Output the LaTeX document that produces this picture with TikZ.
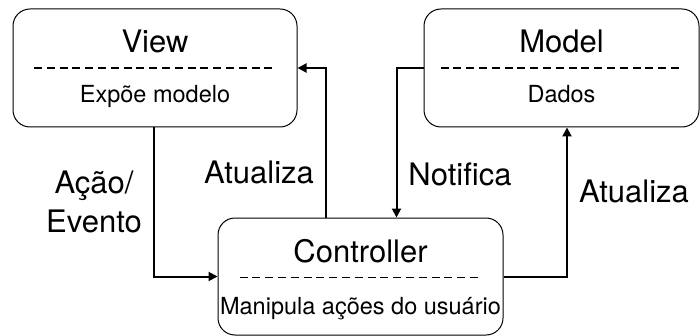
\documentclass[tikz,border=0pt]{standalone}
\usepackage{fontspec}
\setmainfont{TeX Gyre Heros}
\usetikzlibrary{arrows.meta}
\begin{document}
\begin{tikzpicture}[x=0.5pt,y=-0.5pt,
  box/.style={draw, line width=0.5pt, rounded corners=8.5pt, inner sep=0pt},
  sep/.style={line width=0.75pt, dash pattern=on 4pt off 2.4pt},
  conn/.style={line width=1pt, -{Triangle[length=4.5pt,width=4.5pt]}},
  big/.style={font=\fontsize{15.5}{19.5}\selectfont, inner sep=0pt, anchor=base},
  small/.style={font=\fontsize{11.75}{14}\selectfont, inner sep=0pt, anchor=base}]
  \useasboundingbox (0,0) rectangle (700,336);

  % components
  \node[box, minimum width=142pt, minimum height=59pt] (view)  at (155,68)    {};
  \node[box, minimum width=137.5pt, minimum height=59pt] (model) at (561.5,68) {};
  \node[box, minimum width=142.5pt, minimum height=58.5pt] (ctrl) at (360.5,276.5) {};

  \node[big]   (viewT)  at (155,53)    {View};
  \node[small] (viewS)  at (155,103)   {Expõe modelo};
  \node[big]   (modelT) at (561.5,53)  {Model};
  \node[small] (modelS) at (561.5,103) {Dados};
  \node[big]   (ctrlT)  at (360.5,262) {Controller};
  \node[small] (ctrlS)  at (360.5,314) {Manipula ações do usuário};

  \draw[sep] ([xshift=-60.5pt]view.center)  -- ([xshift=60.5pt]view.center);
  \draw[sep] ([xshift=-60.5pt]model.center) -- ([xshift=60.5pt]model.center);
  \draw[sep] ([xshift=-60.5pt,yshift=-0.5pt]ctrl.center) -- ([xshift=60.5pt,yshift=-0.5pt]ctrl.center);

  % connectors
  \draw[conn] ([xshift=-0.5pt]view.south) |- (ctrl.west);
  \draw[conn] ([xshift=-17.25pt]ctrl.north) |- (view.east);
  \draw[conn] (model.west) -| ([xshift=18pt]ctrl.north);
  \draw[conn] (ctrl.east) -| ([xshift=2.75pt]model.south);

  % connector labels
  \node[big, align=center, anchor=center] (lacao) at (94,202) {Ação/\\Evento};
  \node[big] (lat1) at (259,184) {Atualiza};
  \node[big] (lnot) at (460,185) {Notifica};
  \node[big] (lat2) at (634,203) {Atualiza};
\end{tikzpicture}
\end{document}
